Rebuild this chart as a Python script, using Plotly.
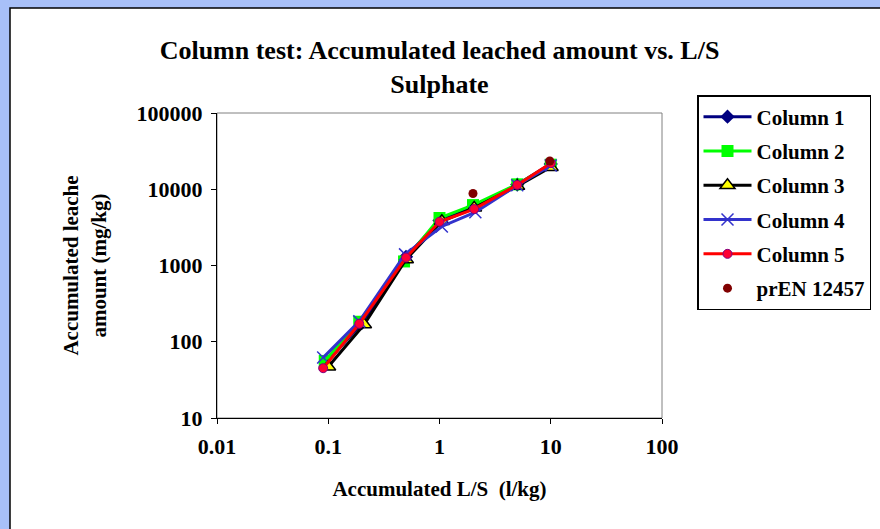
import plotly.graph_objects as go

# ---- data ----
col1_x = [0.095, 0.2, 0.5, 1.0, 2.0, 5.0, 10.0]
col1_y = [52, 175, 1300, 3900, 5900, 11500, 21500]
col2_x = [0.093, 0.19, 0.48, 1.0, 2.0, 5.0, 10.0]
col2_y = [56, 183, 1130, 4200, 6200, 11600, 21000]
col3_x = [0.1, 0.21, 0.5, 1.05, 2.05, 5.0, 10.0]
col3_y = [47, 168, 1200, 3800, 5700, 11000, 19500]
col4_x = [0.09, 0.19, 0.49, 1.05, 2.1, 5.0, 10.0]
col4_y = [62, 185, 1400, 3250, 5000, 11300, 20500]
col5_x = [0.09, 0.19, 0.5, 1.0, 2.05, 5.0, 10.0]
col5_y = [45, 172, 1270, 3750, 5500, 11400, 22000]
pren_x = [2.0, 9.8]
pren_y = [8800, 23500]

x_tickvals = [0.01, 0.1, 1, 10, 100]
x_ticktext = ["0.01", "0.1", "1", "10", "100"]
y_tickvals = [10, 100, 1000, 10000, 100000]
y_ticktext = ["10", "100", "1000", "10000", "100000"]

FONT = "Liberation Serif"

fig = go.Figure()
fig.add_trace(go.Scatter(x=col1_x, y=col1_y, name="Column 1", mode="lines+markers",
                         line=dict(color="#000080", width=3),
                         marker=dict(symbol="diamond", size=11, color="#000080"),
                         legendgroup="a"))
fig.add_trace(go.Scatter(x=col2_x, y=col2_y, name="Column 2", mode="lines+markers",
                         line=dict(color="#00FF00", width=3),
                         marker=dict(symbol="square", size=12, color="#00FF00"),
                         legendgroup="b"))
fig.add_trace(go.Scatter(x=col3_x, y=col3_y, name="Column 3", mode="lines+markers",
                         line=dict(color="#000000", width=3),
                         marker=dict(symbol="triangle-up", size=13, color="#FFFF00",
                                     line=dict(color="#000000", width=1.5)),
                         legendgroup="c"))
fig.add_trace(go.Scatter(x=col4_x, y=col4_y, name="Column 4", mode="lines+markers",
                         line=dict(color="#3333CC", width=3),
                         marker=dict(symbol="x-thin", size=12,
                                     line=dict(color="#3333CC", width=1.5)),
                         legendgroup="d"))
fig.add_trace(go.Scatter(x=col5_x, y=col5_y, name="Column 5", mode="lines+markers",
                         line=dict(color="#FF0000", width=3),
                         marker=dict(symbol="circle", size=9, color="#FF0033",
                                     line=dict(color="#800080", width=1)),
                         legendgroup="e"))
fig.add_trace(go.Scatter(x=pren_x, y=pren_y, name="prEN 12457", mode="markers",
                         marker=dict(symbol="circle", size=9, color="#800000"),
                         legendgroup="f"))

L, R, T, B = 217, 218, 113, 111
W, H = 880, 529
pw, ph = W - L - R, H - T - B

def px_x(p):
    return (p - L) / pw

def px_y(p):
    return (H - B - p) / ph

fig.add_shape(type="rect", xref="paper", yref="paper",
              x0=px_x(10), x1=px_x(W + 5), y0=px_y(H + 5), y1=px_y(8),
              line=dict(color="black", width=1.5), fillcolor="white", layer="below")
fig.add_shape(type="rect", xref="paper", yref="paper",
              x0=0, x1=1, y0=0, y1=1,
              line=dict(color="#808080", width=1), layer="below")

fig.update_layout(
    width=W, height=H,
    margin=dict(l=L, r=R, t=T, b=B, autoexpand=False),
    paper_bgcolor="#A8C0F8",
    plot_bgcolor="white",
    font=dict(family=FONT, color="black", size=21, weight="bold"),
    title=dict(text="Column test: Accumulated leached amount vs. L/S<br>Sulphate",
               x=0.5, xref="paper", y=1 - 59 / H, yref="container", yanchor="middle",
               font=dict(family=FONT, size=26, weight="bold")),
    showlegend=True,
    legend=dict(x=px_x(697), y=px_y(95), xanchor="left", yanchor="top",
                bordercolor="black", borderwidth=1.5, bgcolor="white",
                font=dict(family=FONT, size=21, weight="bold"),
                tracegroupgap=4, itemwidth=48),
    xaxis=dict(type="log", range=[-2, 2], tickvals=x_tickvals, ticktext=x_ticktext,
               showgrid=False, zeroline=False, showline=True, linecolor="black", linewidth=1,
               ticks="outside", ticklen=5, tickcolor="black", ticklabelstandoff=4,
               tickfont=dict(family=FONT, size=22, weight="bold"),
               title=dict(text="Accumulated L/S  (l/kg)", standoff=22,
                          font=dict(family=FONT, size=21, weight="bold"))),
    yaxis=dict(type="log", range=[1, 5], tickvals=y_tickvals, ticktext=y_ticktext,
               showgrid=False, zeroline=False, showline=True, linecolor="black", linewidth=1,
               ticks="outside", ticklen=5, tickcolor="black", ticklabelstandoff=4,
               tickfont=dict(family=FONT, size=22, weight="bold"),
               title=dict(text="Accumulated leache<br>amount (mg/kg)", standoff=24,
                          font=dict(family=FONT, size=21, weight="bold"))),
)

fig.write_html("out.html", post_script="document.body.style.margin='0';",
               config={"displayModeBar": False})
